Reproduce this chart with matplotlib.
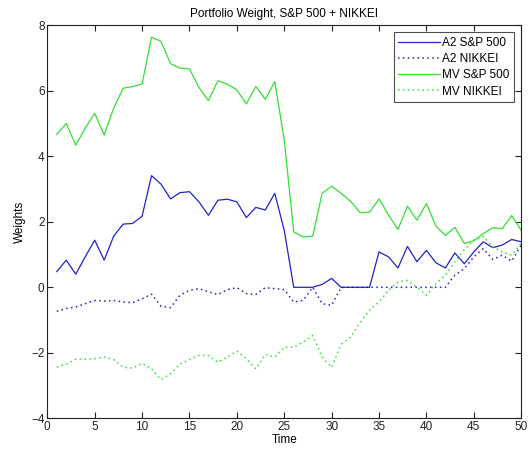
import matplotlib
matplotlib.use("Agg")
import matplotlib.pyplot as plt
import numpy as np

plt.rcParams['font.family'] = ['Liberation Sans', 'DejaVu Sans']

time = list(range(1, 51))

a2_sp500 = [0.48, 0.83, 0.40, 0.93, 1.44, 0.83, 1.56, 1.93, 1.95, 2.17,
            3.41, 3.15, 2.70, 2.89, 2.92, 2.61, 2.20, 2.66, 2.69, 2.61,
            2.13, 2.44, 2.36, 2.87, 1.74, 0.00, 0.00, 0.00, 0.09, 0.27,
            0.00, 0.00, 0.00, 0.00, 1.08, 0.93, 0.59, 1.25, 0.78, 1.13,
            0.75, 0.59, 1.05, 0.72, 1.08, 1.39, 1.21, 1.29, 1.46, 1.39]

a2_nikkei = [-0.73, -0.65, -0.60, -0.50, -0.40, -0.42, -0.40, -0.45, -0.47, -0.35,
             -0.21, -0.58, -0.62, -0.24, -0.09, -0.04, -0.14, -0.22, -0.07, -0.01,
             -0.19, -0.22, -0.01, -0.04, -0.07, -0.45, -0.40, 0.00, -0.50, -0.55,
             0.00, 0.00, 0.00, 0.00, 0.00, 0.00, 0.00, 0.00, 0.00, 0.00,
             0.00, 0.00, 0.37, 0.57, 0.93, 1.18, 0.85, 0.98, 0.80, 1.29]

mv_sp500 = [4.67, 5.00, 4.34, 4.86, 5.31, 4.65, 5.47, 6.08, 6.13, 6.21,
            7.64, 7.51, 6.83, 6.69, 6.67, 6.10, 5.70, 6.31, 6.20, 6.03,
            5.60, 6.13, 5.74, 6.28, 4.50, 1.69, 1.54, 1.56, 2.87, 3.09,
            2.87, 2.63, 2.28, 2.29, 2.70, 2.21, 1.77, 2.48, 2.05, 2.56,
            1.87, 1.59, 1.83, 1.34, 1.42, 1.64, 1.82, 1.79, 2.19, 1.74]

mv_nikkei = [-2.44, -2.34, -2.20, -2.20, -2.18, -2.13, -2.21, -2.44, -2.47, -2.32,
             -2.49, -2.82, -2.64, -2.34, -2.21, -2.08, -2.08, -2.29, -2.13, -1.95,
             -2.18, -2.49, -2.05, -2.13, -1.83, -1.83, -1.67, -1.47, -2.13, -2.44,
             -1.74, -1.52, -1.08, -0.70, -0.45, -0.09, 0.16, 0.21, 0.00, -0.24,
             0.11, 0.37, 0.78, 1.15, 1.44, 1.56, 1.23, 1.08, 0.98, 1.34]

labels = ['A2 S&P 500', 'A2 NIKKEI', 'MV S&P 500', 'MV NIKKEI']
xticks = list(range(0, 51, 5))
yticks = [-4, -2, 0, 2, 4, 6, 8]

blue = '#2222c8'
green = '#33e033'
dot = (0, (1, 2.2))

fig = plt.figure(figsize=(5.31, 4.53), dpi=100)
ax = fig.add_axes([0.0891, 0.0766, 0.8924, 0.8675])

ax.plot(time, a2_sp500, color=blue, lw=0.9, ls='-', label=labels[0])
ax.plot(time, a2_nikkei, color=blue, lw=1.1, ls=dot, label=labels[1])
ax.plot(time, mv_sp500, color=green, lw=0.9, ls='-', label=labels[2])
ax.plot(time, mv_nikkei, color=green, lw=1.1, ls=dot, label=labels[3])

ax.set_xlim(0, 50)
ax.set_ylim(-4, 8)
ax.set_xticks(xticks)
ax.set_yticks(yticks)
ax.tick_params(direction='in', top=True, right=True, labelsize=8.5,
               length=4, width=0.8, colors='#222222', pad=2)
for s in ax.spines.values():
    s.set_color('#222222')
    s.set_linewidth(0.8)

ax.set_title('Portfolio Weight, S&P 500 + NIKKEI', fontsize=8.5, pad=6)
ax.set_xlabel('Time', fontsize=8.5, labelpad=1)
ax.set_ylabel('Weights', fontsize=8.5, labelpad=4)

leg = ax.legend(loc='upper right', fontsize=8.5, frameon=True, fancybox=False,
                handlelength=3.5, handletextpad=0.2, borderpad=0.4,
                labelspacing=0.35, borderaxespad=0.6)
leg.get_frame().set_edgecolor('#222222')
leg.get_frame().set_linewidth(0.8)

fig.savefig('out.png', dpi=100)
